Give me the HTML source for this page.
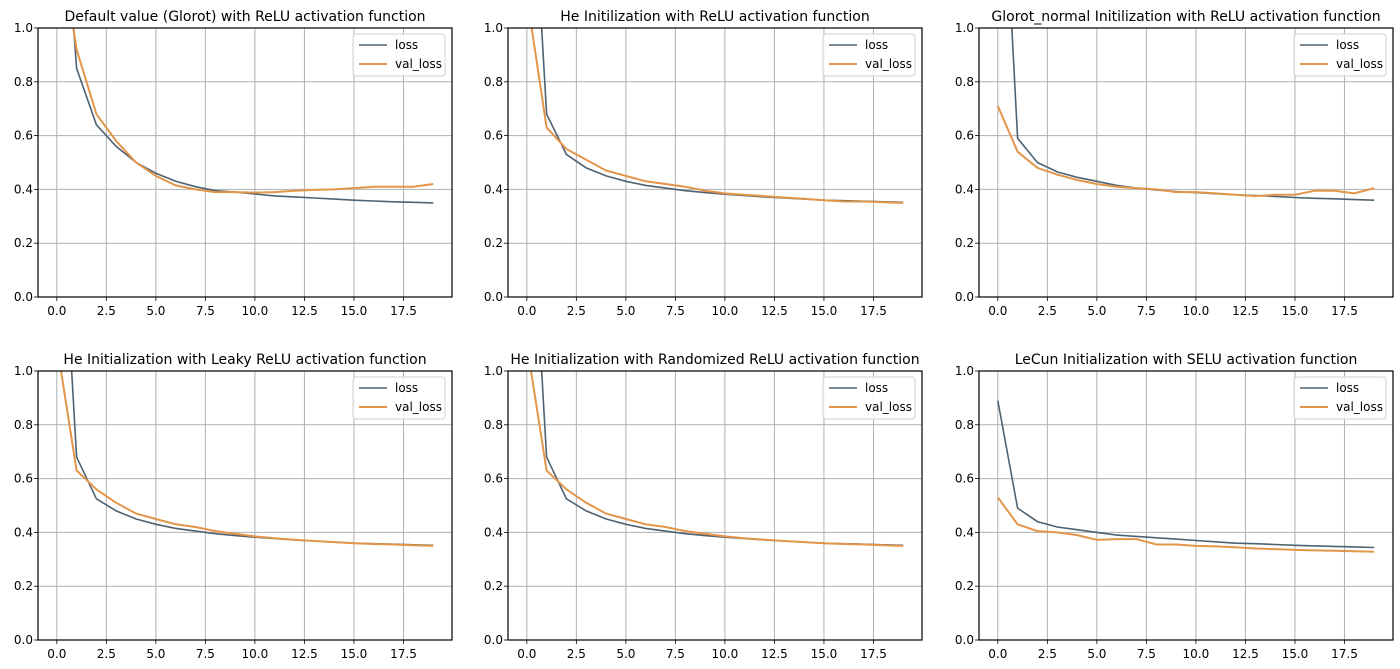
<!DOCTYPE html>
<html><head><meta charset="utf-8">
<style>
html,body{margin:0;padding:0;background:#fff;}
svg{display:block;font-family:"DejaVu Sans","Liberation Sans",sans-serif;}
</style></head>
<body>
<svg id="fig" width="1400" height="669" xmlns="http://www.w3.org/2000/svg"></svg>
<script>
const epochs = [0,1,2,3,4,5,6,7,8,9,10,11,12,13,14,15,16,17,18,19];
const xTicks = [0,2.5,5,7.5,10,12.5,15,17.5];
const xTickLabels = ["0.0","2.5","5.0","7.5","10.0","12.5","15.0","17.5"];
const yTicks = [0,0.2,0.4,0.6,0.8,1.0];
const yTickLabels = ["0.0","0.2","0.4","0.6","0.8","1.0"];
const titles = [
 "Default value (Glorot) with ReLU activation function",
 "He Initilization with ReLU activation function",
 "Glorot_normal Initilization with ReLU activation function",
 "He Initialization with Leaky ReLU activation function",
 "He Initialization with Randomized ReLU activation function",
 "LeCun Initialization with SELU activation function"
];
const loss1 = [1.85,0.85,0.64,0.56,0.50,0.46,0.43,0.41,0.395,0.39,0.383,0.376,0.372,0.368,0.364,0.36,0.357,0.354,0.352,0.35];
const val1  = [1.40,0.92,0.68,0.58,0.50,0.45,0.415,0.40,0.39,0.39,0.388,0.39,0.395,0.398,0.40,0.405,0.41,0.41,0.41,0.42];
const loss2 = [1.96,0.68,0.53,0.48,0.45,0.43,0.415,0.405,0.395,0.388,0.382,0.377,0.372,0.368,0.364,0.36,0.358,0.356,0.354,0.352];
const val2  = [1.12,0.63,0.55,0.51,0.47,0.45,0.43,0.42,0.41,0.395,0.385,0.38,0.375,0.37,0.365,0.36,0.355,0.355,0.352,0.35];
const loss3 = [2.0,0.59,0.50,0.465,0.445,0.43,0.415,0.405,0.398,0.392,0.388,0.384,0.38,0.377,0.374,0.37,0.367,0.365,0.362,0.36];
const val3  = [0.71,0.54,0.48,0.455,0.435,0.42,0.41,0.405,0.40,0.39,0.39,0.385,0.38,0.375,0.38,0.38,0.395,0.395,0.385,0.405];
const loss4 = [1.96,0.68,0.525,0.48,0.45,0.43,0.415,0.405,0.395,0.388,0.382,0.377,0.372,0.368,0.364,0.36,0.358,0.356,0.354,0.352];
const val4  = [1.10,0.63,0.56,0.51,0.47,0.45,0.43,0.42,0.405,0.395,0.385,0.378,0.373,0.368,0.364,0.36,0.357,0.355,0.352,0.35];
const loss5 = [1.96,0.68,0.525,0.48,0.45,0.43,0.415,0.405,0.395,0.388,0.382,0.377,0.372,0.368,0.364,0.36,0.358,0.356,0.354,0.352];
const val5  = [1.10,0.63,0.56,0.51,0.47,0.45,0.43,0.42,0.405,0.395,0.385,0.378,0.373,0.368,0.364,0.36,0.357,0.355,0.352,0.35];
const loss6 = [0.89,0.49,0.44,0.42,0.41,0.40,0.39,0.385,0.38,0.375,0.37,0.365,0.36,0.358,0.355,0.352,0.35,0.348,0.346,0.344];
const val6  = [0.53,0.43,0.405,0.40,0.39,0.372,0.375,0.375,0.355,0.355,0.35,0.348,0.345,0.34,0.338,0.335,0.333,0.332,0.33,0.328];
const lossSeries = [loss1,loss2,loss3,loss4,loss5,loss6];
const valSeries = [val1,val2,val3,val4,val5,val6];

const NS="http://www.w3.org/2000/svg";
const fig=document.getElementById('fig');
function mk(tag,attrs,parent){const e=document.createElementNS(NS,tag);for(const k in attrs)e.setAttribute(k,attrs[k]);(parent||fig).appendChild(e);return e;}
const lefts=[38,508,979], tops=[28,371], W=414, H=269;
const defs=mk('defs',{});
for(let i=0;i<6;i++){
  const L=lefts[i%3], T=tops[Math.floor(i/3)];
  const xmin=-0.95,xmax=19.95;
  const xs=v=>L+(v-xmin)/(xmax-xmin)*W;
  const ys=v=>T+H-(v/1.0)*H;
  const g=mk('g',{});
  
  
  const cp=mk('clipPath',{id:'c'+i},defs);
  mk('rect',{x:L,y:T,width:W,height:H},cp);
  const t=mk('text',{x:L+W/2,y:T-7,'text-anchor':'middle','font-size':14,fill:'#000'},g);
  t.textContent=titles[i];
  
  
  xTicks.forEach((v,k)=>{
    const gl=mk('line',{x1:xs(v),x2:xs(v),y1:T,y2:T+H,stroke:'#b0b0b0','stroke-width':1},g);
    
    
    mk('line',{x1:xs(v),x2:xs(v),y1:T+H,y2:T+H+4,stroke:'#000','stroke-width':0.8},g);
    const tl=mk('text',{x:xs(v),y:T+H+18,'text-anchor':'middle','font-size':12,fill:'#000'},g);
    tl.textContent=xTickLabels[k];
    
    
  });
  yTicks.forEach((v,k)=>{
    const gl=mk('line',{x1:L,x2:L+W,y1:ys(v),y2:ys(v),stroke:'#b0b0b0','stroke-width':1},g);
    
    
    mk('line',{x1:L-4,x2:L,y1:ys(v),y2:ys(v),stroke:'#000','stroke-width':0.8},g);
    const tl=mk('text',{x:L-5,y:ys(v)+4,'text-anchor':'end','font-size':12,fill:'#000'},g);
    tl.textContent=yTickLabels[k];
    
    
  });
  const pts=a=>epochs.map((e,j)=>xs(e).toFixed(1)+','+ys(a[j]).toFixed(1)).join(' ');
  const lp=mk('polyline',{points:pts(lossSeries[i]),fill:'none',stroke:'#4e6272','stroke-width':1.6,'clip-path':'url(#c'+i+')'},g);
  
  
  const vp=mk('polyline',{points:pts(valSeries[i]),fill:'none',stroke:'#e3954a','stroke-width':2,'clip-path':'url(#c'+i+')'},g);
  
  
  mk('rect',{x:L,y:T,width:W,height:H,fill:'none',stroke:'#000','stroke-width':1.2},g);
  const lg=mk('g',{},g);
  
  
  const lx=L+W-99, ly=T+6;
  mk('rect',{x:lx,y:ly,width:92,height:42,rx:3,fill:'#fff','fill-opacity':0.85,stroke:'#d0d0d0'},lg);
  mk('line',{x1:lx+6,x2:lx+34,y1:ly+11,y2:ly+11,stroke:'#4e6272','stroke-width':1.6},lg);
  mk('line',{x1:lx+6,x2:lx+34,y1:ly+30,y2:ly+30,stroke:'#e3954a','stroke-width':2},lg);
  const t1=mk('text',{x:lx+42,y:ly+15,'font-size':12,fill:'#000'},lg);t1.textContent='loss';
  
  
  const t2=mk('text',{x:lx+42,y:ly+34,'font-size':12,fill:'#000'},lg);t2.textContent='val_loss';
  
  
}
</script>
</body></html>
